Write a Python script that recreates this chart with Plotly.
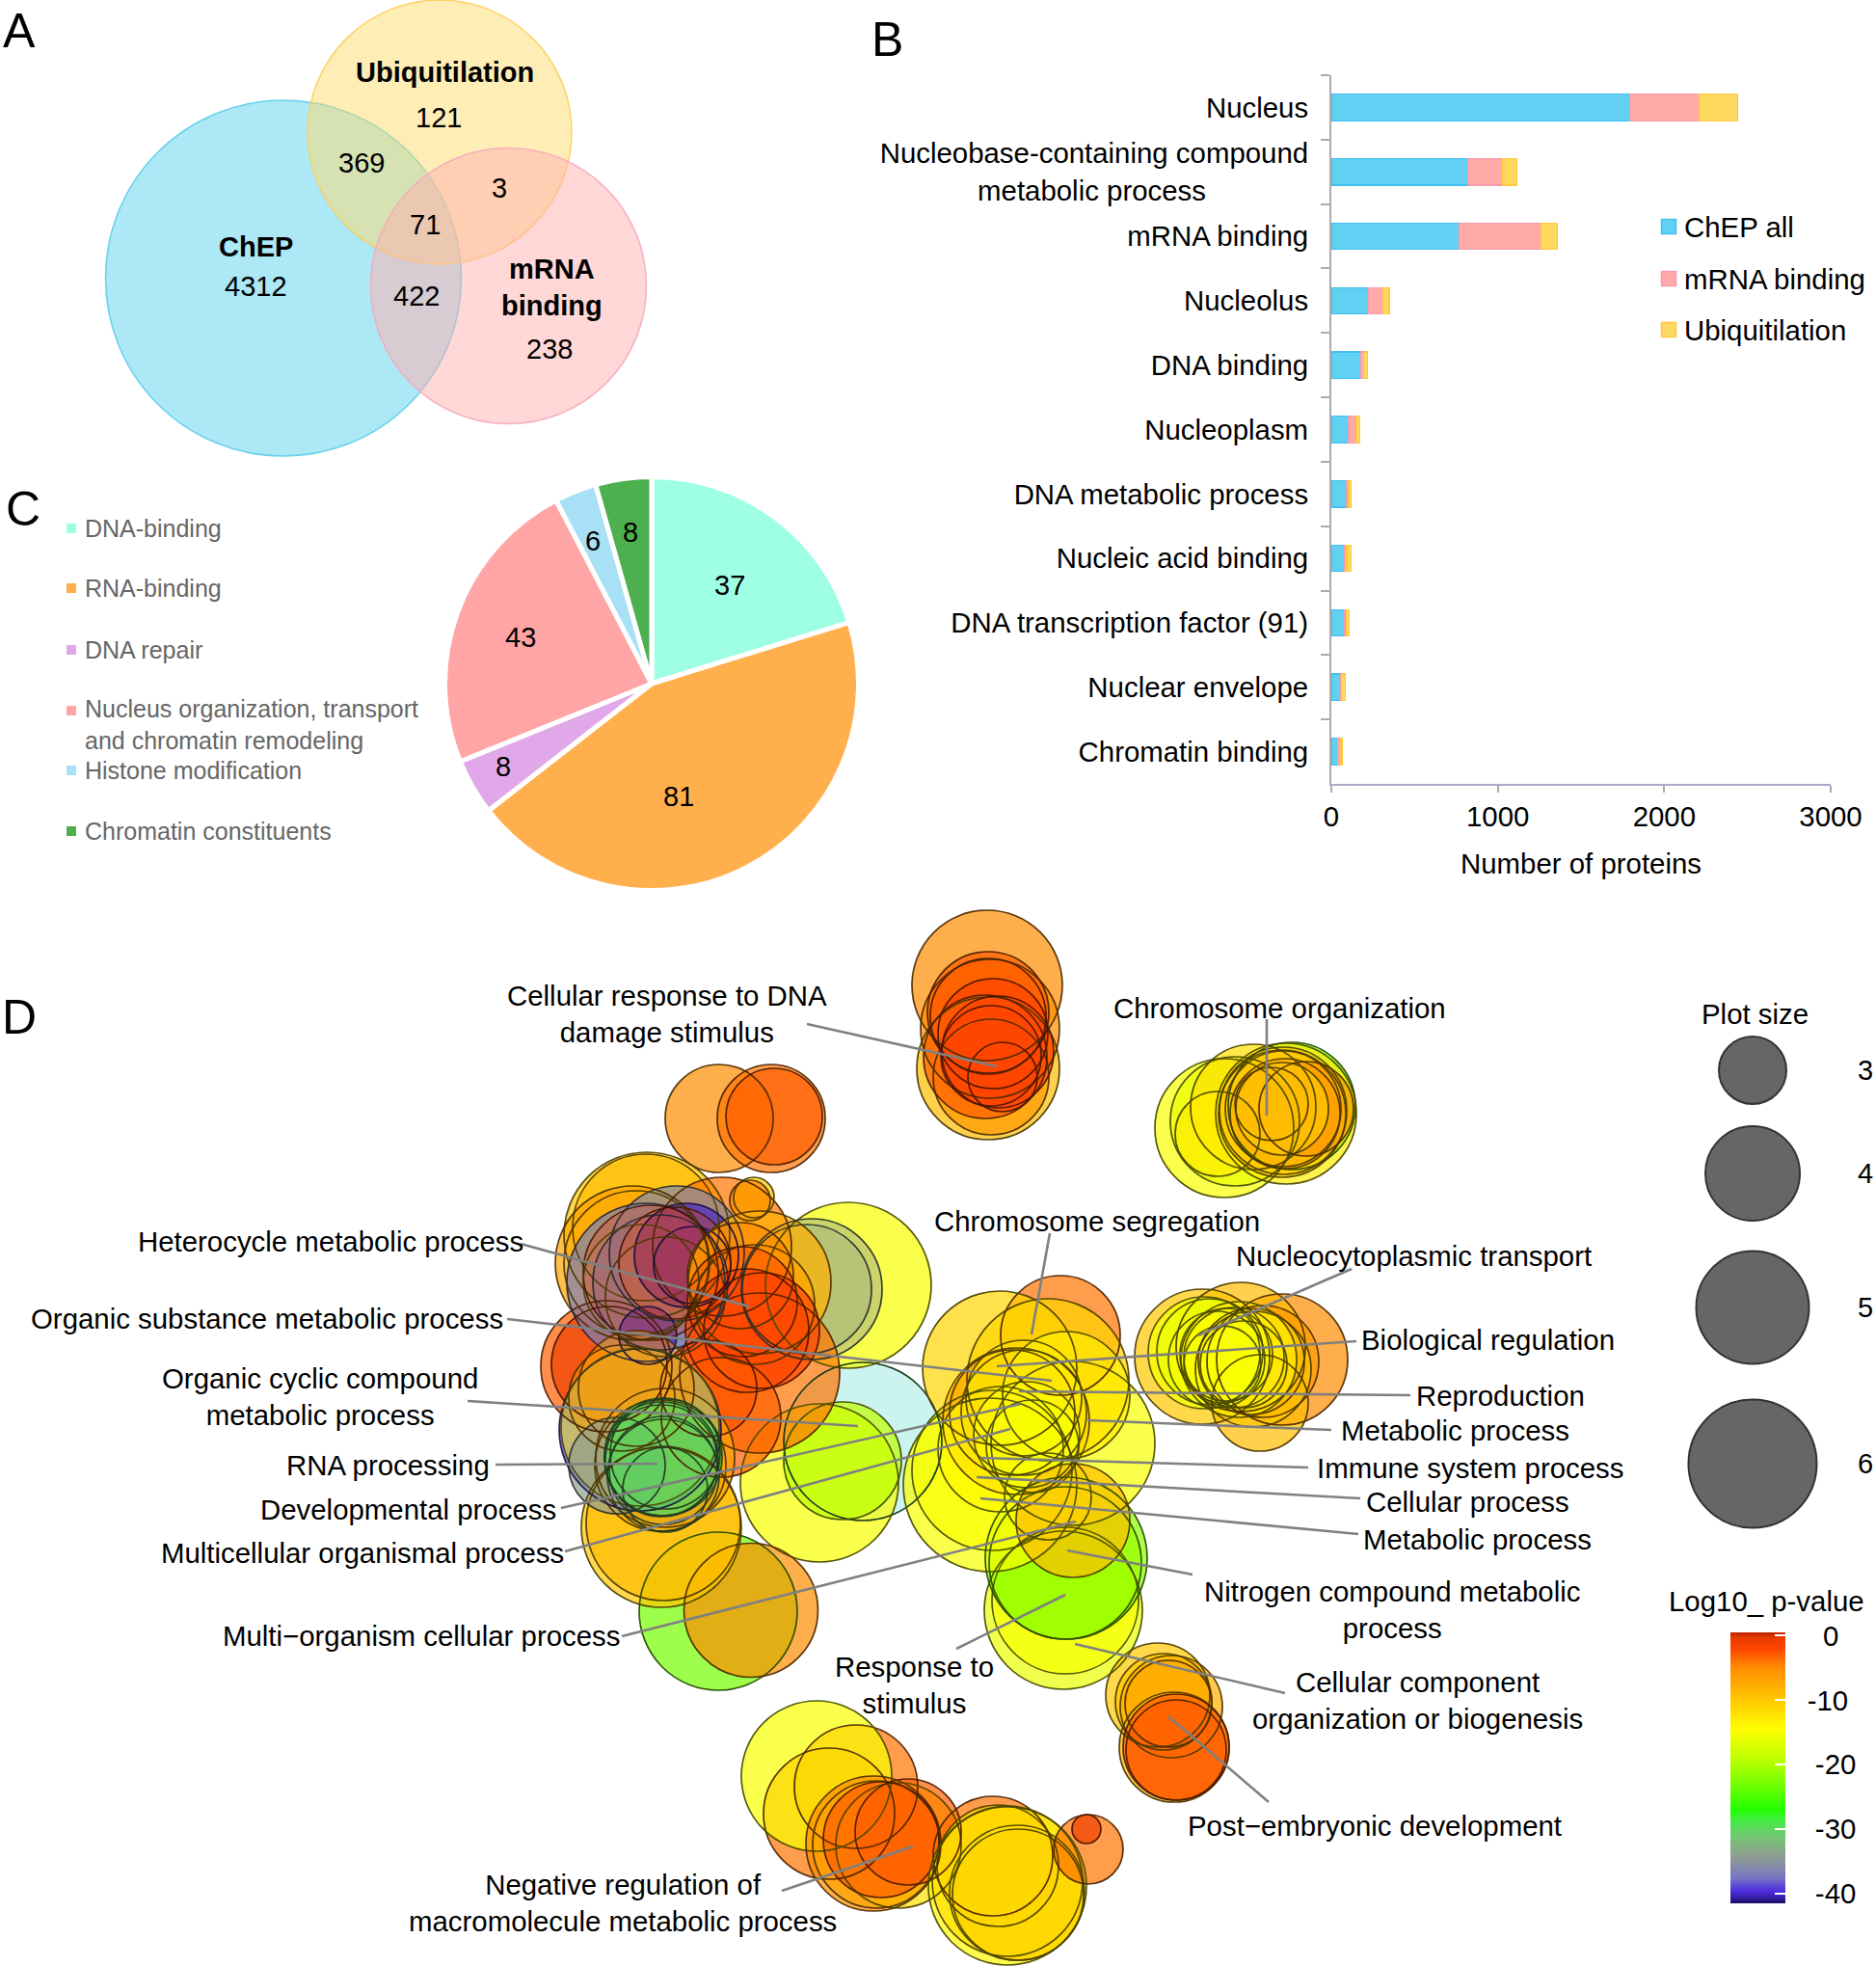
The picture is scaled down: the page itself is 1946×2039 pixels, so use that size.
import plotly.graph_objects as go

W, H = 1946, 2039
FONT = "Liberation Sans"

# ---------- Panel A: Venn ----------
venn_names = ["ChEP", "Ubiquitilation", "mRNA binding"]
venn_x = [294, 456, 527.5]
venn_y = [288.5, 137, 296.5]
venn_r = [184.5, 137, 143]
venn_fill = ["rgba(90,210,236,0.5)", "rgba(255,219,110,0.5)", "rgba(255,176,176,0.5)"]
venn_edge = ["rgba(90,205,235,0.9)", "rgba(255,205,90,0.9)", "rgba(245,170,190,0.9)"]
venn_text_x = [461, 455, 375, 518, 441, 265, 265, 432, 572, 570]
venn_text_y = [75, 122, 169, 195, 233, 256, 297, 307, 298, 362]
venn_text = ["<b>Ubiquitilation</b>", "121", "369", "3", "71", "<b>ChEP</b>", "4312", "422",
             "<b>mRNA<br>binding</b>", "238"]

# ---------- Panel B: stacked bars ----------
bar_categories = ["Nucleus",
                  "Nucleobase-containing compound<br>metabolic process" + "\u00a0" * 13,
                  "mRNA binding", "Nucleolus", "DNA binding", "Nucleoplasm",
                  "DNA metabolic process", "Nucleic acid binding",
                  "DNA transcription factor (91)", "Nuclear envelope", "Chromatin binding"]
bar_chep = [1791, 819, 768, 224, 178, 104, 93, 77, 81, 54, 39]
bar_mrna = [417, 208, 491, 85, 15, 47, 7, 16, 8, 8, 19]
bar_ubiq = [232, 89, 100, 38, 23, 19, 20, 27, 19, 23, 8]
bar_legend = ["ChEP all", "mRNA binding", "Ubiquitilation"]
bar_colors = ["#62D0F2", "#FFAAA8", "#FFD860"]
bar_edges = ["#3FC0F0", "#F59AAE", "#FFC840"]
bar_legend_x = [1731, 1731, 1731]
bar_legend_y = [235, 289, 342]

# ---------- Panel C: pie ----------
pie_labels = ["DNA-binding", "RNA-binding", "DNA repair",
              "Nucleus organization, transport<br>and chromatin remodeling",
              "Histone modification", "Chromatin constituents"]
pie_values = [37, 81, 8, 43, 6, 8]
pie_colors = ["#9FFFE4", "#FFB04D", "#E0A8E8", "#FFA5A5", "#A8E0F5", "#4DAF4D"]
pie_value_x = [757, 704, 522, 540, 615, 654]
pie_value_y = [607, 826, 795, 661, 561, 552]
pie_legend_x = [74, 74, 74, 74, 74, 74]
pie_legend_y = [548, 610, 674, 737, 799, 862]
pie_text_y = [548, 610, 674, 751, 799, 862]

# ---------- Panel D: GO-term bubbles ----------
bubble_x = [
    746, 800, 803,
    1025, 1027, 1024, 1028, 1025, 1025, 1030, 1022, 1035, 1028, 1040,
    1270, 1281, 1340, 1334, 1300, 1263, 1331, 1330, 1331, 1333, 1355, 1330, 1319,
    1330, 1307, 1287, 1247, 1249, 1255, 1310, 1298, 1300, 1285, 1290, 1280, 1272, 1262, 1268,
    880, 842, 837, 850, 874, 671, 670, 656, 629, 632, 749,
    670, 702, 685, 712, 718, 672, 675, 700, 665, 690, 660,
    782, 778, 788, 788, 783, 768, 770, 775, 790, 735, 748,
    745, 779, 686, 688, 685, 690,
    664, 664, 660, 645, 640,
    688, 686, 690, 686, 688, 688, 690,
    1103, 1105, 1106, 1105, 1027, 1029, 1113, 1100, 1037, 1087, 1054, 1050, 1038, 1062, 1062,
    1106, 1065, 1071, 1087, 1113,
    860, 888, 847, 906, 932, 909, 914, 942,
    1030, 1045, 1045, 1035, 1055, 1056, 1129, 1127,
    1201, 1207, 1212, 1215, 1218, 1220, 1220,
]
bubble_y = [
    1160, 1160, 1158,
    1108, 1067, 1022, 1117, 1050, 1054, 1072, 1096, 1091, 1095, 1117,
    1170, 1163, 1147, 1155, 1148, 1176, 1152, 1155, 1150, 1155, 1150, 1150, 1145,
    1410, 1455, 1397, 1407, 1403, 1402, 1412, 1412, 1420, 1410, 1415, 1408, 1405, 1410, 1415,
    1333, 1337, 1337, 1538, 1515, 1281, 1273, 1310, 1417, 1415, 1293,
    1330, 1300, 1330, 1302, 1312, 1385, 1320, 1310, 1330, 1345, 1310,
    1242, 1245, 1424, 1330, 1353, 1323, 1350, 1380, 1380, 1440, 1470,
    1671, 1670, 1584, 1580, 1520, 1512,
    1483, 1480, 1440, 1450, 1520,
    1511, 1513, 1508, 1515, 1530, 1525, 1545,
    1670, 1660, 1616, 1621, 1540, 1525, 1497, 1385, 1419, 1431, 1474, 1465, 1503, 1465, 1450,
    1447, 1488, 1500, 1552, 1577,
    1881, 1853, 1842, 1912, 1914, 1913, 1908, 1900,
    1925, 1956, 1951, 1935, 1963, 1965, 1918, 1897,
    1758, 1765, 1767, 1770, 1812, 1812, 1815,
]
bubble_r = [
    56, 56, 50,
    74, 72, 78, 60, 63, 60, 57, 64, 58, 52, 36,
    72, 67, 66, 73, 65, 44, 66, 66, 60, 57, 49, 48, 38,
    68, 50, 67, 70, 58, 55, 58, 55, 60, 60, 45, 52, 48, 50, 40,
    86, 73, 67, 82, 61, 86, 76, 80, 68, 60, 72,
    82, 70, 70, 54, 40, 30, 70, 58, 60, 62, 75,
    21, 21, 83, 74, 62, 55, 57, 64, 60, 50, 62,
    82, 69.5, 83, 80, 68, 72,
    84, 82, 60, 55, 50,
    61, 59, 57, 58, 58, 56, 44,
    82, 76, 84, 79, 90, 83, 85, 62, 80, 84, 76, 65, 65, 65, 60,
    66, 55, 48, 45, 59,
    68, 64, 78, 70, 65, 66, 60, 55,
    62, 82, 78, 63, 70, 68, 36, 15,
    54, 50, 45, 53, 57, 55, 52,
]
bubble_logp = [
    -5, -4, -3,
    -9, -5, -5, -6, -3, -3, -2, -3, -2, -2, -2,
    -15, -16, -23, -13, -12, -13, -11, -10, -10, -8, -6, -10, -9,
    -5, -9, -9, -10, -15, -16, -6, -8, -10, -13, -12, -13, -14, -15, -15,
    -15, -34, -34, -15, -19, -10, -9, -7, -3, -1, -4,
    -37, -36, -37, -40, -40, -40, -1, -1, -10, -8, -8,
    -10, -5, -4, -8, -7, -5, -3, -2, -2, -2, -3,
    -23, -5, -10, -9, -8, -7,
    -39, -14, -6, -7, -34,
    -29.5, -31, -31, -31, -31, -31, -31,
    -16, -15, -22, -21, -15, -15, -15, -4, -11, -11, -8, -8, -14, -12, -12,
    -13, -14, -15, -15, -9,
    -4, -4, -15, -5, -12, -7, -3, -3,
    -4, -14, -12, -11, -12, -11, -4, -1,
    -10, -10, -6, -8, -8, -3, -3,
]
bubble_alpha = [
    .7, .7, .7,
    .7, .7, .7, .7, .7, .7, .7, .7, .7, .7, .7,
    .7, .7, .7, .7, .7, .7, .7, .7, .7, .7, .7, .7, .7,
    .7, .7, .7, .7, .7, .7, .7, .7, .7, .7, .7, .7, .7, .7, .7,
    .7, .45, .3, .7, .7, .7, .7, .7, .7, .7, .7,
    .7, .7, .7, .7, .7, .7, .3, .3, .02, .02, .02,
    .7, .7, .7, .7, .7, .7, .7, .7, .7, .7, .7,
    .7, .7, .7, .7, .7, .7,
    .7, .5, .5, .4, .7,
    .8, .05, .05, .05, .05, .05, .05,
    .7, .7, .7, .7, .7, .7, .7, .7, .7, .7, .7, .7, .7, .7, .7,
    .7, .7, .7, .7, .7,
    .7, .7, .7, .7, .7, .7, .7, .7,
    .7, .7, .7, .7, .7, .7, .7, .7,
    .7, .7, .7, .7, .7, .7, .7,
]
pale_x, pale_y, pale_r = [895], [1495], [82]

logp_stops = [-41.5, -40.5, -39.5, -37.5, -34, -31, -28.5, -27, -20, -14.5, -10, -5, -2, -0.3, 0.5]
logp_colors = ["#1A0A60", "#3A20B0", "#5030E0", "#7878C0", "#90A090", "#70C870", "#40EE40",
               "#22FF00", "#B0FF00", "#FFFF00", "#FFC800", "#FF8C00", "#FF4500", "#E63A00", "#BB2200"]

size_legend_x = [1818, 1818, 1818, 1818]
size_legend_y = [1110, 1217, 1356, 1518]
size_legend_r = [35, 49, 58.5, 66.5]
size_legend_text = ["3", "4", "5", "6"]
size_text_x = [1935, 1935, 1935, 1935]

logp_ticks = [0, -10, -20, -30, -40]
logp_ticktext = ["\u00a0\u00a0\u00a0\u00a00", "\u00a0\u00a0-10", "\u00a0\u00a0\u00a0-20",
                 "\u00a0\u00a0\u00a0-30", "\u00a0\u00a0\u00a0-40"]

# leader lines: start / end of each grey line
leader_x0 = [837, 1314, 1089, 1402, 1407, 540, 526, 1463, 1381, 1357, 1411, 1409, 1237, 992, 1333, 1316,
             811, 485, 514, 582, 586, 645]
leader_y0 = [1062, 1057, 1279, 1316, 1391, 1290, 1368, 1447, 1483, 1522, 1554, 1591, 1633, 1710, 1756, 1869,
             1961, 1453, 1519, 1564, 1609, 1697]
leader_x1 = [1034, 1314, 1070, 1243, 1034, 777, 1091, 1057, 1128, 1017, 1013, 1017, 1107, 1105, 1115, 1212,
             947, 890, 682, 1059, 1048, 1116]
leader_y1 = [1106, 1157, 1384, 1385, 1417, 1355, 1432, 1443, 1473, 1512, 1532, 1554, 1608, 1654, 1705, 1780,
             1915, 1479, 1518, 1456, 1482, 1578]

term_x = [692, 1327, 1138, 1466, 1543, 343, 277, 1556, 1509, 1525, 1522, 1532, 1444, 1470, 948, 1426, 646,
          332, 402, 423, 376, 437]
term_y = [1051, 1045, 1266, 1302, 1389, 1287, 1367, 1447, 1483, 1522, 1557, 1596, 1669, 1763, 1747, 1893, 1973,
          1448, 1519, 1565, 1610, 1696]
term_text = ["Cellular response to DNA<br>damage stimulus", "Chromosome organization", "Chromosome segregation",
             "Nucleocytoplasmic transport", "Biological regulation", "Heterocycle metabolic process",
             "Organic substance metabolic process", "Reproduction", "Metabolic process",
             "Immune system process", "Cellular process", "Metabolic process",
             "Nitrogen compound metabolic<br>process", "Cellular component<br>organization or biogenesis",
             "Response to<br>stimulus", "Post\u2212embryonic development",
             "Negative regulation of<br>macromolecule metabolic process",
             "Organic cyclic compound<br>metabolic process", "RNA processing", "Developmental process",
             "Multicellular organismal process", "Multi\u2212organism cellular process"]

panel_x = [20, 920, 24, 20]
panel_y = [32, 41, 528, 1055]
panel_text = ["A", "B", "C", "D"]

# ---------- helpers ----------
def hex_rgb(h):
    return tuple(int(h[i:i + 2], 16) for i in (1, 3, 5))

def logp_rgb(v):
    for i in range(len(logp_stops) - 1):
        if logp_stops[i] <= v <= logp_stops[i + 1]:
            t = (v - logp_stops[i]) / (logp_stops[i + 1] - logp_stops[i])
            a, b = hex_rgb(logp_colors[i]), hex_rgb(logp_colors[i + 1])
            return tuple(a[k] + (b[k] - a[k]) * t for k in range(3))
    return hex_rgb(logp_colors[-1])

def edge_color(v):
    r, g, b = logp_rgb(v)
    return f"rgba({r*.3:.0f},{g*.3:.0f},{b*.3:.0f},0.92)"

cmin, cmax = logp_stops[0], logp_stops[-1]
colorscale = [[(s - cmin) / (cmax - cmin), c] for s, c in zip(logp_stops, logp_colors)]

fig = go.Figure()
OV = dict(xaxis="x2", yaxis="y2", hoverinfo="skip", showlegend=False)

# Panel B bars
for name, vals, col, edge in zip(bar_legend, [bar_chep, bar_mrna, bar_ubiq], bar_colors, bar_edges):
    fig.add_trace(go.Bar(y=bar_categories, x=vals, orientation="h", name=name, showlegend=False,
                         marker=dict(color=col, line=dict(color=edge, width=1.2)), width=0.41))

# Panel C pie
PIE_R = 214.5
fig.add_trace(go.Pie(labels=pie_labels, values=pie_values, sort=False, direction="clockwise", rotation=0,
                     textinfo="none",
                     marker=dict(colors=pie_colors, line=dict(color="#fff", width=5)),
                     domain=dict(x=[(676 - PIE_R) / W, (676 + PIE_R) / W],
                                 y=[1 - (709 + PIE_R) / H, 1 - (709 - PIE_R) / H]),
                     showlegend=False, hoverinfo="label+value"))

# Panel A circles
fig.add_trace(go.Scatter(x=venn_x, y=venn_y, mode="markers", text=venn_names,
                         marker=dict(size=[2 * r for r in venn_r], color=venn_fill, opacity=1,
                                     line=dict(color=venn_edge, width=1.5)), **OV))

# Panel D bubbles: fills first, then every outline on top (as in the source figure)
fig.add_trace(go.Scatter(x=pale_x, y=pale_y, mode="markers",
                         marker=dict(size=[2 * r for r in pale_r], color="rgba(190,240,235,0.8)", opacity=1,
                                     line=dict(width=0)), **OV))
fig.add_trace(go.Scatter(x=bubble_x, y=bubble_y, mode="markers",
                         marker=dict(size=[2 * r for r in bubble_r], color=bubble_logp,
                                     coloraxis="coloraxis", opacity=bubble_alpha, line=dict(width=0)), **OV))
fig.add_trace(go.Scatter(x=pale_x + bubble_x, y=pale_y + bubble_y, mode="markers",
                         marker=dict(size=[2 * r for r in pale_r + bubble_r], color="rgba(0,0,0,0)", opacity=1,
                                     line=dict(color=["#1a3a1a"] + [edge_color(v) for v in bubble_logp],
                                               width=1.7)), **OV))
# leader lines
lx, ly = [], []
for a, b, c, d in zip(leader_x0, leader_y0, leader_x1, leader_y1):
    lx += [a, c, None]
    ly += [b, d, None]
fig.add_trace(go.Scatter(x=lx, y=ly, mode="lines", line=dict(color="#808080", width=2.6), **OV))
# size legend
fig.add_trace(go.Scatter(x=size_legend_x, y=size_legend_y, mode="markers",
                         marker=dict(size=[2 * r for r in size_legend_r], color="#666666", opacity=1,
                                     line=dict(color="#333333", width=2)), **OV))
# legend swatches for B and C
fig.add_trace(go.Scatter(x=bar_legend_x, y=bar_legend_y, mode="markers",
                         marker=dict(symbol="square", size=15, color=bar_colors,
                                     line=dict(color=bar_edges, width=1.5)), **OV))
fig.add_trace(go.Scatter(x=pie_legend_x, y=pie_legend_y, mode="markers",
                         marker=dict(symbol="square", size=10, color=pie_colors), **OV))

ann = []
def label(x, y, text, size=29.4, color="#000", anchor="center"):
    ann.append(dict(x=x, y=y, xref="x2", yref="y2", text=text, showarrow=False, xanchor=anchor, yanchor="middle",
                    font=dict(family=FONT, size=size, color=color), align="center" if anchor == "center" else "left"))

for x, y, t in zip(venn_text_x, venn_text_y, venn_text):
    label(x, y, t, 29)
for x, y, t in zip(pie_value_x, pie_value_y, pie_values):
    label(x, y, str(t), 29)
for x, y, t in zip(term_x, term_y, term_text):
    label(x, y, t)
for x, y, t in zip(panel_x, panel_y, panel_text):
    label(x, y, t, 50)
for x, y, t in zip(size_text_x, size_legend_y, size_legend_text):
    label(x, y, t, 29)
label(1820, 1051, "Plot size")
label(1832, 1660, "Log10_ p-value")
for y, t in zip(bar_legend_y, bar_legend):
    label(1745, y, t, anchor="left")
for y, t in zip(pie_text_y, pie_labels):
    label(86, y, t, 25, color="#666666", anchor="left")

fig.update_layout(
    width=W, height=H, margin=dict(l=0, r=0, t=0, b=0, autoexpand=False), paper_bgcolor="#fff",
    plot_bgcolor="rgba(0,0,0,0)", barmode="stack", annotations=ann,
    font=dict(family=FONT, size=29.4, color="#000"),
    xaxis=dict(domain=[1381 / W, 1899 / W], range=[0, 3000], anchor="y", tickvals=[0, 1000, 2000, 3000],
               showgrid=False, zeroline=False, showline=True, linecolor="#ABABC8", linewidth=2,
               ticks="outside", ticklen=7, tickcolor="#ABABAB", tickwidth=2, ticklabelstandoff=0,
               tickfont=dict(family=FONT, size=29.4),
               title=dict(text="Number of proteins", font=dict(family=FONT, size=29.4), standoff=23)),
    yaxis=dict(domain=[1 - 813 / H, 1 - 78 / H], anchor="x", autorange="reversed", type="category",
               tickson="boundaries", showgrid=False, showline=True, linecolor="#ABABAB", linewidth=2,
               ticks="outside", ticklen=9, tickcolor="#ABABAB", tickwidth=2, ticklabelstandoff=16,
               tickfont=dict(family=FONT, size=29.4)),
    xaxis2=dict(domain=[0, 1], range=[0, W], visible=False, anchor="y2", fixedrange=True),
    yaxis2=dict(domain=[0, 1], range=[H, 0], visible=False, anchor="x2", fixedrange=True),
    coloraxis=dict(colorscale=colorscale, cmin=cmin, cmax=cmax,
                   colorbar=dict(x=1795 / W, xanchor="left", xpad=0, y=1 - 1693 / H, yanchor="top", ypad=0,
                                 thickness=57, lenmode="pixels", len=281, outlinewidth=0,
                                 tickvals=logp_ticks, ticktext=logp_ticktext, ticks="inside", ticklen=11,
                                 tickcolor="#ffffff", tickwidth=1.5,
                                 tickfont=dict(family=FONT, size=29.4))),
)
fig.write_html("out.html", config=dict(displayModeBar=False),
               post_script="document.body.style.margin='0';")
